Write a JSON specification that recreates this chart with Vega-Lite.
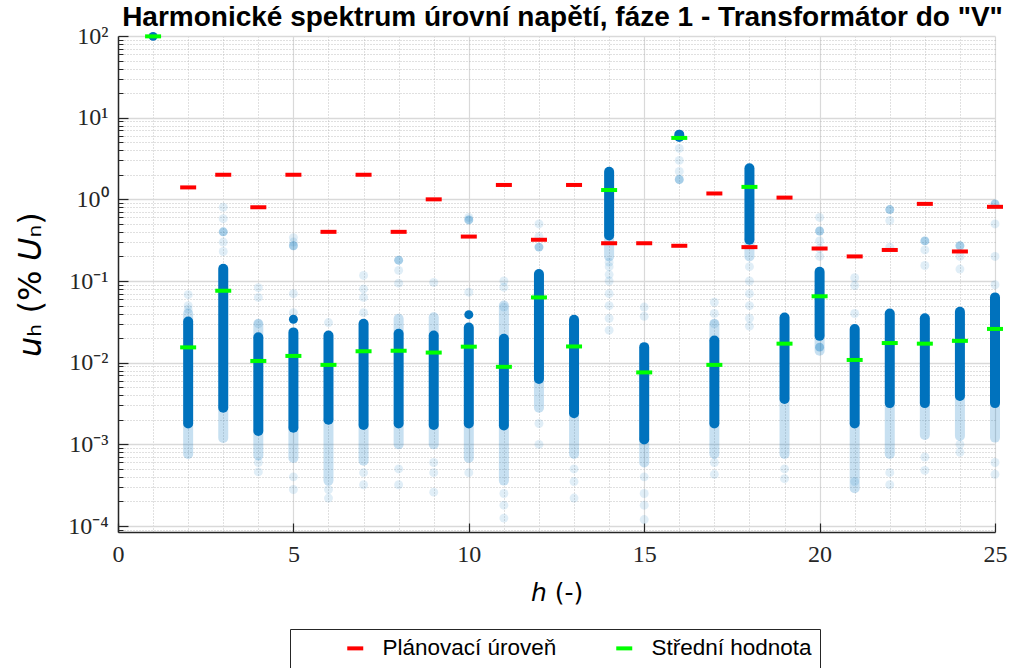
{
  "$schema": "https://vega.github.io/schema/vega-lite/v6.json",
  "width": 877,
  "height": 496,
  "autosize": {"type": "none"},
  "padding": {"left": 118, "top": 36, "right": 22, "bottom": 136},
  "background": "white",
  "title": {
    "text": "Harmonické spektrum úrovní napětí, fáze 1 - Transformátor do \"V\"",
    "font": "Liberation Sans",
    "fontSize": 28,
    "fontWeight": "bold",
    "color": "#000000",
    "anchor": "middle",
    "frame": "group",
    "offset": 5,
    "dx": 6,
    "dy": 13
  },
  "datasets": {
    "tail": [
      {"h": 2, "lo": 0.00076, "hi": 0.0018}, {"h": 2, "lo": 0.032, "hi": 0.04},
      {"h": 3, "lo": 0.0012, "hi": 0.0028},
      {"h": 4, "lo": 0.00073, "hi": 0.00146}, {"h": 4, "lo": 0.0205, "hi": 0.03},
      {"h": 5, "lo": 0.00068, "hi": 0.0016},
      {"h": 6, "lo": 0.00036, "hi": 0.002},
      {"h": 7, "lo": 0.00063, "hi": 0.00173},
      {"h": 8, "lo": 0.001, "hi": 0.0018}, {"h": 8, "lo": 0.0226, "hi": 0.0345},
      {"h": 9, "lo": 0.001, "hi": 0.00173}, {"h": 9, "lo": 0.0215, "hi": 0.036},
      {"h": 10, "lo": 0.00068, "hi": 0.0018},
      {"h": 11, "lo": 0.00036, "hi": 0.0017}, {"h": 11, "lo": 0.0196, "hi": 0.05},
      {"h": 12, "lo": 0.0028, "hi": 0.0063},
      {"h": 13, "lo": 0.00076, "hi": 0.0024},
      {"h": 14, "lo": 0.2, "hi": 0.36},
      {"h": 15, "lo": 0.0006, "hi": 0.00115},
      {"h": 17, "lo": 0.00076, "hi": 0.0018}, {"h": 17, "lo": 0.0187, "hi": 0.03},
      {"h": 18, "lo": 0.2, "hi": 0.32},
      {"h": 19, "lo": 0.00076, "hi": 0.0036},
      {"h": 20, "lo": 0.014, "hi": 0.0213},
      {"h": 21, "lo": 0.00029, "hi": 0.0018},
      {"h": 22, "lo": 0.00076, "hi": 0.0032},
      {"h": 23, "lo": 0.0013, "hi": 0.0032},
      {"h": 24, "lo": 0.00127, "hi": 0.0039},
      {"h": 25, "lo": 0.00121, "hi": 0.0032}
    ],
    "core": [
      {"h": 2, "lo": 0.0018, "hi": 0.032},
      {"h": 3, "lo": 0.0028, "hi": 0.141},
      {"h": 4, "lo": 0.00146, "hi": 0.0205},
      {"h": 5, "lo": 0.0016, "hi": 0.0235},
      {"h": 6, "lo": 0.002, "hi": 0.0215},
      {"h": 7, "lo": 0.00173, "hi": 0.03},
      {"h": 8, "lo": 0.0018, "hi": 0.0226},
      {"h": 9, "lo": 0.00173, "hi": 0.0215},
      {"h": 10, "lo": 0.0018, "hi": 0.027},
      {"h": 11, "lo": 0.0017, "hi": 0.0196},
      {"h": 12, "lo": 0.0063, "hi": 0.122},
      {"h": 13, "lo": 0.0024, "hi": 0.0336},
      {"h": 14, "lo": 0.36, "hi": 2.17},
      {"h": 15, "lo": 0.00115, "hi": 0.0155},
      {"h": 16, "lo": 5.8, "hi": 6.2},
      {"h": 17, "lo": 0.0018, "hi": 0.0187},
      {"h": 18, "lo": 0.32, "hi": 2.4},
      {"h": 19, "lo": 0.0036, "hi": 0.0357},
      {"h": 20, "lo": 0.0213, "hi": 0.13},
      {"h": 21, "lo": 0.0018, "hi": 0.0258},
      {"h": 22, "lo": 0.0032, "hi": 0.04},
      {"h": 23, "lo": 0.0032, "hi": 0.035},
      {"h": 24, "lo": 0.0039, "hi": 0.042},
      {"h": 25, "lo": 0.0032, "hi": 0.063}
    ],
    "solid": [
      {"h": 1, "u": 99},
      {"h": 5, "u": 0.034},
      {"h": 10, "u": 0.0387},
      {"h": 16, "u": 6.1}
    ],
    "medium": [
      {"h": 3, "u": 0.4}, {"h": 5, "u": 0.27}, {"h": 8, "u": 0.18}, {"h": 10, "u": 0.56},
      {"h": 12, "u": 0.26}, {"h": 16, "u": 1.75}, {"h": 20, "u": 0.41}, {"h": 20, "u": 0.0155},
      {"h": 22, "u": 0.75}, {"h": 23, "u": 0.31}, {"h": 24, "u": 0.27}, {"h": 25, "u": 0.88}
    ],
    "faint": [
      {"h": 2, "u": 0.068}, {"h": 2, "u": 0.05}, {"h": 2, "u": 0.045},
      {"h": 3, "u": 0.8}, {"h": 3, "u": 0.58}, {"h": 3, "u": 0.23}, {"h": 3, "u": 0.3},
      {"h": 4, "u": 0.083}, {"h": 4, "u": 0.063}, {"h": 4, "u": 0.03}, {"h": 4, "u": 0.00046}, {"h": 4, "u": 0.0006},
      {"h": 5, "u": 0.34}, {"h": 5, "u": 0.3}, {"h": 5, "u": 0.07}, {"h": 5, "u": 0.041}, {"h": 5, "u": 0.00028}, {"h": 5, "u": 0.0004},
      {"h": 6, "u": 0.031}, {"h": 6, "u": 0.00022}, {"h": 6, "u": 0.00028},
      {"h": 7, "u": 0.117}, {"h": 7, "u": 0.08}, {"h": 7, "u": 0.063}, {"h": 7, "u": 0.041}, {"h": 7, "u": 0.00032}, {"h": 7, "u": 0.00045},
      {"h": 8, "u": 0.135}, {"h": 8, "u": 0.094}, {"h": 8, "u": 0.00032}, {"h": 8, "u": 0.0005},
      {"h": 9, "u": 0.096}, {"h": 9, "u": 0.00026}, {"h": 9, "u": 0.00045}, {"h": 9, "u": 0.0006},
      {"h": 10, "u": 0.6}, {"h": 10, "u": 0.073}, {"h": 10, "u": 0.00045},
      {"h": 11, "u": 0.1}, {"h": 11, "u": 0.084}, {"h": 11, "u": 0.048}, {"h": 11, "u": 0.000125}, {"h": 11, "u": 0.00018}, {"h": 11, "u": 0.00025},
      {"h": 12, "u": 0.5}, {"h": 12, "u": 0.35}, {"h": 12, "u": 0.001}, {"h": 12, "u": 0.0018},
      {"h": 13, "u": 0.00022}, {"h": 13, "u": 0.00035}, {"h": 13, "u": 0.0005},
      {"h": 14, "u": 0.17}, {"h": 14, "u": 0.15}, {"h": 14, "u": 0.12}, {"h": 14, "u": 0.1}, {"h": 14, "u": 0.07}, {"h": 14, "u": 0.05}, {"h": 14, "u": 0.035}, {"h": 14, "u": 0.025},
      {"h": 15, "u": 0.048}, {"h": 15, "u": 0.037}, {"h": 15, "u": 0.0004}, {"h": 15, "u": 0.00025}, {"h": 15, "u": 0.00018}, {"h": 15, "u": 0.00012},
      {"h": 16, "u": 4.2}, {"h": 16, "u": 3.0}, {"h": 16, "u": 2.2},
      {"h": 17, "u": 0.055}, {"h": 17, "u": 0.04}, {"h": 17, "u": 0.03}, {"h": 17, "u": 0.00043}, {"h": 17, "u": 0.0006},
      {"h": 18, "u": 0.15}, {"h": 18, "u": 0.1}, {"h": 18, "u": 0.07}, {"h": 18, "u": 0.05}, {"h": 18, "u": 0.035}, {"h": 18, "u": 0.028},
      {"h": 19, "u": 0.00038}, {"h": 19, "u": 0.0005},
      {"h": 20, "u": 0.6}, {"h": 20, "u": 0.31}, {"h": 20, "u": 0.25}, {"h": 20, "u": 0.2},
      {"h": 21, "u": 0.11}, {"h": 21, "u": 0.088}, {"h": 21, "u": 0.04}, {"h": 21, "u": 0.00035},
      {"h": 22, "u": 0.55}, {"h": 22, "u": 0.26}, {"h": 22, "u": 0.00032}, {"h": 22, "u": 0.00045},
      {"h": 23, "u": 0.24}, {"h": 23, "u": 0.155}, {"h": 23, "u": 0.00048}, {"h": 23, "u": 0.0007},
      {"h": 24, "u": 0.2}, {"h": 24, "u": 0.14}, {"h": 24, "u": 0.0008}, {"h": 24, "u": 0.001},
      {"h": 25, "u": 0.5}, {"h": 25, "u": 0.2}, {"h": 25, "u": 0.09}, {"h": 25, "u": 0.00043}, {"h": 25, "u": 0.0006}
    ],
    "levels": [
      {"h": 2, "u": 1.4, "typ": "Plánovací úroveň"},
      {"h": 3, "u": 2.0, "typ": "Plánovací úroveň"},
      {"h": 4, "u": 0.8, "typ": "Plánovací úroveň"},
      {"h": 5, "u": 2.0, "typ": "Plánovací úroveň"},
      {"h": 6, "u": 0.4, "typ": "Plánovací úroveň"},
      {"h": 7, "u": 2.0, "typ": "Plánovací úroveň"},
      {"h": 8, "u": 0.4, "typ": "Plánovací úroveň"},
      {"h": 9, "u": 1.0, "typ": "Plánovací úroveň"},
      {"h": 10, "u": 0.35, "typ": "Plánovací úroveň"},
      {"h": 11, "u": 1.5, "typ": "Plánovací úroveň"},
      {"h": 12, "u": 0.32, "typ": "Plánovací úroveň"},
      {"h": 13, "u": 1.5, "typ": "Plánovací úroveň"},
      {"h": 14, "u": 0.29, "typ": "Plánovací úroveň"},
      {"h": 15, "u": 0.29, "typ": "Plánovací úroveň"},
      {"h": 16, "u": 0.27, "typ": "Plánovací úroveň"},
      {"h": 17, "u": 1.18, "typ": "Plánovací úroveň"},
      {"h": 18, "u": 0.26, "typ": "Plánovací úroveň"},
      {"h": 19, "u": 1.05, "typ": "Plánovací úroveň"},
      {"h": 20, "u": 0.25, "typ": "Plánovací úroveň"},
      {"h": 21, "u": 0.2, "typ": "Plánovací úroveň"},
      {"h": 22, "u": 0.24, "typ": "Plánovací úroveň"},
      {"h": 23, "u": 0.88, "typ": "Plánovací úroveň"},
      {"h": 24, "u": 0.23, "typ": "Plánovací úroveň"},
      {"h": 25, "u": 0.81, "typ": "Plánovací úroveň"},
      {"h": 1, "u": 99, "typ": "Střední hodnota"},
      {"h": 2, "u": 0.0154, "typ": "Střední hodnota"},
      {"h": 3, "u": 0.076, "typ": "Střední hodnota"},
      {"h": 4, "u": 0.0105, "typ": "Střední hodnota"},
      {"h": 5, "u": 0.0121, "typ": "Střední hodnota"},
      {"h": 6, "u": 0.0094, "typ": "Střední hodnota"},
      {"h": 7, "u": 0.0138, "typ": "Střední hodnota"},
      {"h": 8, "u": 0.014, "typ": "Střední hodnota"},
      {"h": 9, "u": 0.0133, "typ": "Střední hodnota"},
      {"h": 10, "u": 0.0157, "typ": "Střední hodnota"},
      {"h": 11, "u": 0.0089, "typ": "Střední hodnota"},
      {"h": 12, "u": 0.063, "typ": "Střední hodnota"},
      {"h": 13, "u": 0.0158, "typ": "Střední hodnota"},
      {"h": 14, "u": 1.3, "typ": "Střední hodnota"},
      {"h": 15, "u": 0.0076, "typ": "Střední hodnota"},
      {"h": 16, "u": 5.65, "typ": "Střední hodnota"},
      {"h": 17, "u": 0.0094, "typ": "Střední hodnota"},
      {"h": 18, "u": 1.42, "typ": "Střední hodnota"},
      {"h": 19, "u": 0.0171, "typ": "Střední hodnota"},
      {"h": 20, "u": 0.065, "typ": "Střední hodnota"},
      {"h": 21, "u": 0.0108, "typ": "Střední hodnota"},
      {"h": 22, "u": 0.0174, "typ": "Střední hodnota"},
      {"h": 23, "u": 0.0171, "typ": "Střední hodnota"},
      {"h": 24, "u": 0.0185, "typ": "Střední hodnota"},
      {"h": 25, "u": 0.0259, "typ": "Střední hodnota"}
    ]
  },
  "layer": [
    {
      "data": {"name": "tail"},
      "mark": {"type": "rule", "strokeWidth": 10, "strokeCap": "round", "color": "#0072BD", "opacity": 0.22},
      "encoding": {
        "x": {
          "field": "h", "type": "quantitative",
          "scale": {"domain": [0, 25], "nice": false, "zero": false},
          "axis": {
            "orient": "bottom",
            "values": [1, 2, 3, 4, 6, 7, 8, 9, 11, 12, 13, 14, 16, 17, 18, 19, 21, 22, 23, 24],
            "labels": false, "ticks": false, "domain": false,
            "grid": true, "gridColor": "#b0b0b0", "gridDash": [1, 2], "gridWidth": 0.8,
            "title": null
          }
        },
        "y": {
          "field": "lo", "type": "quantitative",
          "scale": {"type": "log", "domain": [8.45e-5, 100], "nice": false},
          "axis": {
            "orient": "left",
            "values": [9e-5, 2e-4, 3e-4, 4e-4, 5e-4, 6e-4, 7e-4, 8e-4, 9e-4, 2e-3, 3e-3, 4e-3, 5e-3, 6e-3, 7e-3, 8e-3, 9e-3, 0.02, 0.03, 0.04, 0.05, 0.06, 0.07, 0.08, 0.09, 0.2, 0.3, 0.4, 0.5, 0.6, 0.7, 0.8, 0.9, 2, 3, 4, 5, 6, 7, 8, 9, 20, 30, 40, 50, 60, 70, 80, 90],
            "labels": false, "ticks": true, "tickSize": -5, "tickColor": "#262626", "tickWidth": 1,
            "domain": false,
            "grid": true, "gridColor": "#b0b0b0", "gridDash": [1, 2], "gridWidth": 0.8,
            "title": null
          }
        },
        "y2": {"field": "hi"}
      }
    },
    {
      "data": {"name": "core"},
      "mark": {"type": "rule", "strokeWidth": 10, "strokeCap": "round", "color": "#0072BD"},
      "encoding": {
        "x": {
          "field": "h", "type": "quantitative",
          "axis": {
            "orient": "bottom",
            "values": [0, 5, 10, 15, 20, 25],
            "grid": true, "gridColor": "#d9d9d9", "gridWidth": 1.2,
            "ticks": true, "tickSize": -9, "tickColor": "#262626", "tickWidth": 1.2,
            "domain": true, "domainColor": "#262626", "domainWidth": 1.5,
            "labelFont": "Liberation Serif", "labelFontSize": 24, "labelColor": "#262626",
            "labelPadding": 19, "labelFlush": false,
            "title": "𝘩 (-)",
            "titleFont": "DejaVu Sans", "titleFontSize": 25, "titleFontWeight": "normal", "titleColor": "#000000",
            "titlePadding": 14
          }
        },
        "y": {
          "field": "lo", "type": "quantitative",
          "axis": {
            "orient": "left",
            "values": [0.0001, 0.001, 0.01, 0.1, 1, 10, 100],
            "labelExpr": "datum.value >= 50 ? '10²' : datum.value >= 5 ? '10¹' : datum.value >= 0.5 ? '10⁰' : datum.value >= 0.05 ? '10⁻¹' : datum.value >= 0.005 ? '10⁻²' : datum.value >= 0.0005 ? '10⁻³' : '10⁻⁴'",
            "grid": true, "gridColor": "#d9d9d9", "gridWidth": 1.5,
            "ticks": true, "tickSize": -10, "tickColor": "#262626", "tickWidth": 1.2,
            "domain": true, "domainColor": "#262626", "domainWidth": 1.5,
            "labelFont": "Liberation Serif", "labelFontSize": 24, "labelColor": "#262626",
            "labelPadding": 20, "labelFlush": false,
            "title": "𝘶ₕ (% 𝘜ₙ)",
            "titleFont": "DejaVu Sans", "titleFontSize": 32, "titleFontWeight": "normal", "titleColor": "#000000",
            "titlePadding": 20
          }
        },
        "y2": {"field": "hi"}
      }
    },
    {
      "data": {"name": "faint"},
      "mark": {"type": "point", "filled": true, "size": 80, "color": "#0072BD", "opacity": 0.12, "strokeWidth": 0},
      "encoding": {
        "x": {"field": "h", "type": "quantitative", "axis": null},
        "y": {"field": "u", "type": "quantitative", "axis": null}
      }
    },
    {
      "data": {"name": "medium"},
      "mark": {"type": "point", "filled": true, "size": 80, "color": "#0072BD", "opacity": 0.35, "strokeWidth": 0},
      "encoding": {
        "x": {"field": "h", "type": "quantitative", "axis": null},
        "y": {"field": "u", "type": "quantitative", "axis": null}
      }
    },
    {
      "data": {"name": "solid"},
      "mark": {"type": "point", "filled": true, "size": 80, "color": "#0072BD", "opacity": 1, "strokeWidth": 0},
      "encoding": {
        "x": {"field": "h", "type": "quantitative", "axis": null},
        "y": {"field": "u", "type": "quantitative", "axis": null}
      }
    },
    {
      "data": {"name": "levels"},
      "mark": {"type": "point", "filled": true, "size": 256, "opacity": 1, "strokeWidth": 0, "shape": "M-1,-0.25H1V0.25H-1Z"},
      "encoding": {
        "x": {"field": "h", "type": "quantitative", "axis": null},
        "y": {"field": "u", "type": "quantitative", "axis": null},
        "color": {
          "field": "typ", "type": "nominal",
          "scale": {"domain": ["Plánovací úroveň", "Střední hodnota"], "range": ["#ff0000", "#00ff00"]},
          "legend": {
            "title": null,
            "orient": "none",
            "legendX": 172,
            "legendY": 593,
            "direction": "horizontal",
            "columns": 2,
            "padding": 8,
            "strokeColor": "#262626",
            "fillColor": "#ffffff",
            "symbolType": "M-1,-0.25H1V0.25H-1Z",
            "symbolSize": 256,
            "symbolStrokeWidth": 0,
            "symbolOpacity": 1,
            "symbolOffset": 46,
            "labelOffset": 16,
            "labelLimit": 400,
            "columnPadding": 10,
            "labelFont": "Liberation Sans",
            "labelFontSize": 22.5,
            "labelColor": "#000000"
          }
        }
      }
    }
  ],
  "resolve": {"axis": {"x": "independent", "y": "independent"}},
  "config": {
    "view": {"stroke": null}
  }
}
